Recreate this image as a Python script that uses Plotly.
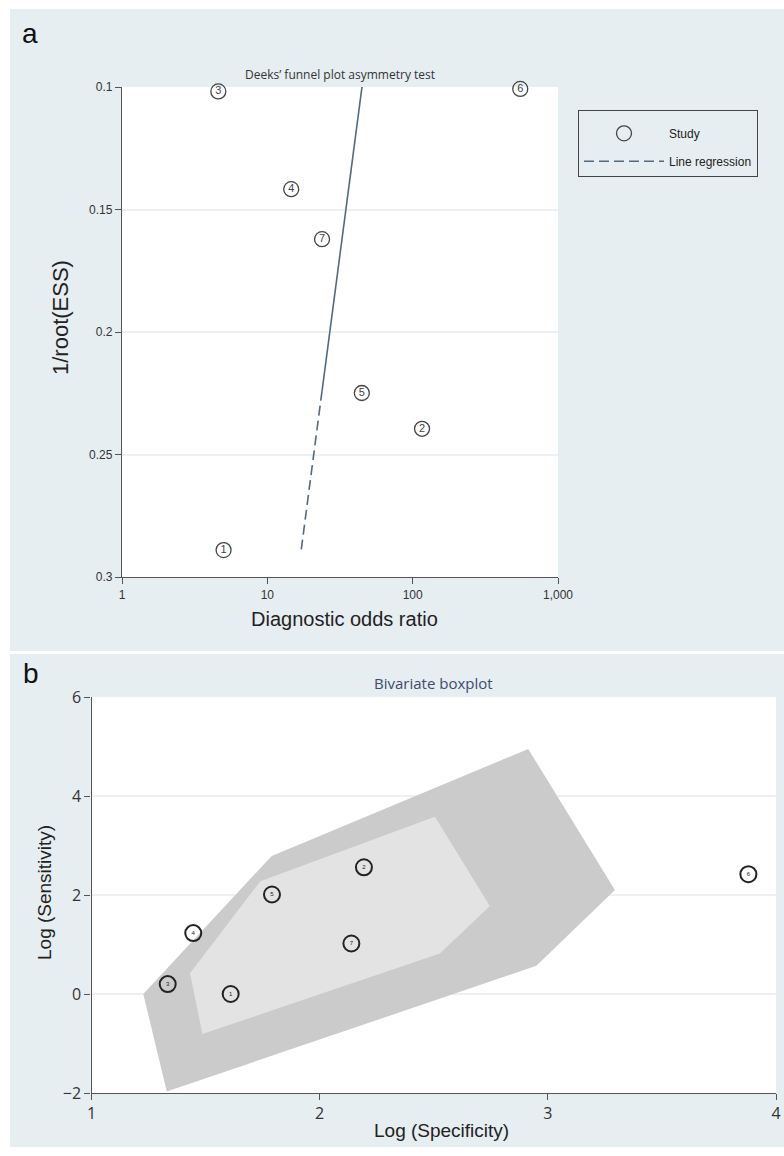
import plotly.graph_objects as go

# ---------------- data ----------------
# Panel a: Deeks' funnel plot
study_nums = ["1", "2", "3", "4", "5", "6", "7"]
dor = [5.0, 116, 4.6, 14.6, 44.7, 550, 23.8]
inv_root_ess = [0.289, 0.2395, 0.1018, 0.1417, 0.2249, 0.1008, 0.1621]
reg_solid_x = [44.8, 23.8]
reg_solid_y = [0.100, 0.224]
reg_dash_x = [23.8, 17.1]
reg_dash_y = [0.224, 0.289]
a_xticks = [1, 10, 100, 1000]
a_xticklabels = ["1", "10", "100", "1,000"]
a_yticks = [0.1, 0.15, 0.2, 0.25, 0.3]
a_yticklabels = ["0.1", "0.15", "0.2", "0.25", "0.3"]

# Panel b: bivariate boxplot
log_spec = [1.61, 2.194, 1.334, 1.446, 1.791, 3.879, 2.139]
log_sens = [0.00, 2.56, 0.20, 1.23, 2.01, 2.42, 1.02]
outer_x = [1.33, 1.227, 1.79, 2.914, 3.294, 2.95]
outer_y = [-1.97, 0.00, 2.79, 4.95, 2.10, 0.57]
inner_x = [1.486, 1.432, 1.74, 2.505, 2.746, 2.527]
inner_y = [-0.81, 0.42, 2.28, 3.58, 1.78, 0.82]
b_xticks = [1, 2, 3, 4]
b_yticks = [-2, 0, 2, 4, 6]

# ---------------- layout helpers ----------------
W, H = 784, 1156
BG = "#e7eef1"
def px(x):
    return x / W
def py(y):
    return 1 - y / H

fig = go.Figure()

# Panel b polygons
fig.add_trace(go.Scatter(x=outer_x, y=outer_y, fill="toself", fillcolor="#cbcbcb",
                         mode="lines", line=dict(width=0, color="#cbcbcb"),
                         xaxis="x2", yaxis="y2", showlegend=False, hoverinfo="skip"))
fig.add_trace(go.Scatter(x=inner_x, y=inner_y, fill="toself", fillcolor="#e3e3e3",
                         mode="lines", line=dict(width=0, color="#e3e3e3"),
                         xaxis="x2", yaxis="y2", showlegend=False, hoverinfo="skip"))
fig.add_trace(go.Scatter(x=log_spec, y=log_sens, mode="markers+text", text=study_nums,
                         textposition="middle center",
                         textfont=dict(size=6, color="#222", family="Liberation Sans"),
                         marker=dict(symbol="circle-open", size=16, color="#222",
                                     line=dict(width=2, color="#222")),
                         xaxis="x2", yaxis="y2", showlegend=False, cliponaxis=False))

# Panel a traces
fig.add_trace(go.Scatter(x=dor, y=inv_root_ess, mode="markers+text", text=study_nums,
                         textposition="middle center",
                         textfont=dict(size=11, color="#444", family="Liberation Sans"),
                         marker=dict(symbol="circle-open", size=15, color="#444",
                                     line=dict(width=1.3, color="#444")),
                         name="Study", legendgroup="g1",
                         xaxis="x", yaxis="y", cliponaxis=False))
fig.add_trace(go.Scatter(x=reg_dash_x, y=reg_dash_y, mode="lines",
                         line=dict(color="#55697c", width=1.6, dash="10px,5px"),
                         name="Line regression", legendgroup="g2", xaxis="x", yaxis="y"))
fig.add_trace(go.Scatter(x=reg_solid_x, y=reg_solid_y, mode="lines",
                         line=dict(color="#55697c", width=1.6), legendgroup="g2",
                         showlegend=False, xaxis="x", yaxis="y"))

axis_common = dict(showline=True, linecolor="#555", linewidth=1.3, ticks="outside",
                   ticklen=6, tickcolor="#555", zeroline=False, automargin=False)

def ann(text, x, y, size, family="Liberation Sans", color="#222", angle=0):
    return dict(text=text, x=px(x), y=py(y), xref="paper", yref="paper", showarrow=False,
                xanchor="center", yanchor="middle", textangle=angle,
                font=dict(family=family, size=size, color=color))

fig.update_layout(
    width=W, height=H,
    margin=dict(l=0, r=0, t=0, b=0),
    paper_bgcolor="white", plot_bgcolor="white",
    xaxis=dict(domain=[px(122), px(558)], type="log", range=[0, 3],
               tickvals=a_xticks, ticktext=a_xticklabels, showgrid=False,
               tickfont=dict(family="Liberation Sans", size=12, color="#333"),
               anchor="y", **axis_common),
    yaxis=dict(domain=[py(577), py(87)], range=[0.3, 0.1],
               tickvals=a_yticks, ticktext=a_yticklabels, showgrid=True,
               gridcolor="#edf1f3", gridwidth=1.5,
               tickfont=dict(family="Liberation Sans", size=12, color="#333"),
               anchor="x", **axis_common),
    xaxis2=dict(domain=[px(91.5), px(776)], range=[1, 4], tickvals=b_xticks,
                showgrid=False, tickfont=dict(family="Open Sans", size=16, color="#333"),
                anchor="y2", **axis_common),
    yaxis2=dict(domain=[py(1093), py(697)], range=[-2, 6], tickvals=b_yticks,
                showgrid=True, gridcolor="#edf1f3", gridwidth=1.5,
                tickfont=dict(family="Open Sans", size=16, color="#333"),
                anchor="x2", **axis_common),
    legend=dict(x=px(578), y=py(110), xanchor="left", yanchor="top",
                bgcolor=BG, bordercolor="#444", borderwidth=1,
                font=dict(family="Liberation Sans", size=12, color="#222"),
                itemwidth=80, traceorder="grouped", tracegroupgap=9,
                title=dict(text="\u00a0", font=dict(size=6))),
    shapes=[
        dict(type="rect", xref="paper", yref="paper", x0=px(10), x1=1, y0=py(651), y1=py(9),
             fillcolor=BG, line=dict(width=0), layer="below"),
        dict(type="rect", xref="paper", yref="paper", x0=px(10), x1=1, y0=py(1147), y1=py(654),
             fillcolor=BG, line=dict(width=0), layer="below"),
        dict(type="rect", xref="x domain", yref="y domain", x0=0, x1=1, y0=0, y1=1,
             fillcolor="white", line=dict(width=0), layer="below"),
        dict(type="rect", xref="x2 domain", yref="y2 domain", x0=0, x1=1, y0=0, y1=1,
             fillcolor="white", line=dict(width=0), layer="below"),
    ],
    annotations=[
        ann("a", 30, 33, 28, color="#111"),
        ann("Deeks\u2019 funnel plot asymmetry test", 340, 75, 12, family="Open Sans", color="#333"),
        ann("1/root(ESS)", 60, 318, 22, angle=-90),
        ann("Diagnostic odds ratio", 344, 619, 20),
        ann("b", 31, 673, 28, color="#111"),
        ann("Bivariate boxplot", 433, 683, 15, family="Open Sans", color="#3d4b6e"),
        ann("Log (Sensitivity)", 44, 893, 19, angle=-90),
        ann("Log (Specificity)", 441, 1130, 19),
    ],
)

fig.write_html("out.html")
